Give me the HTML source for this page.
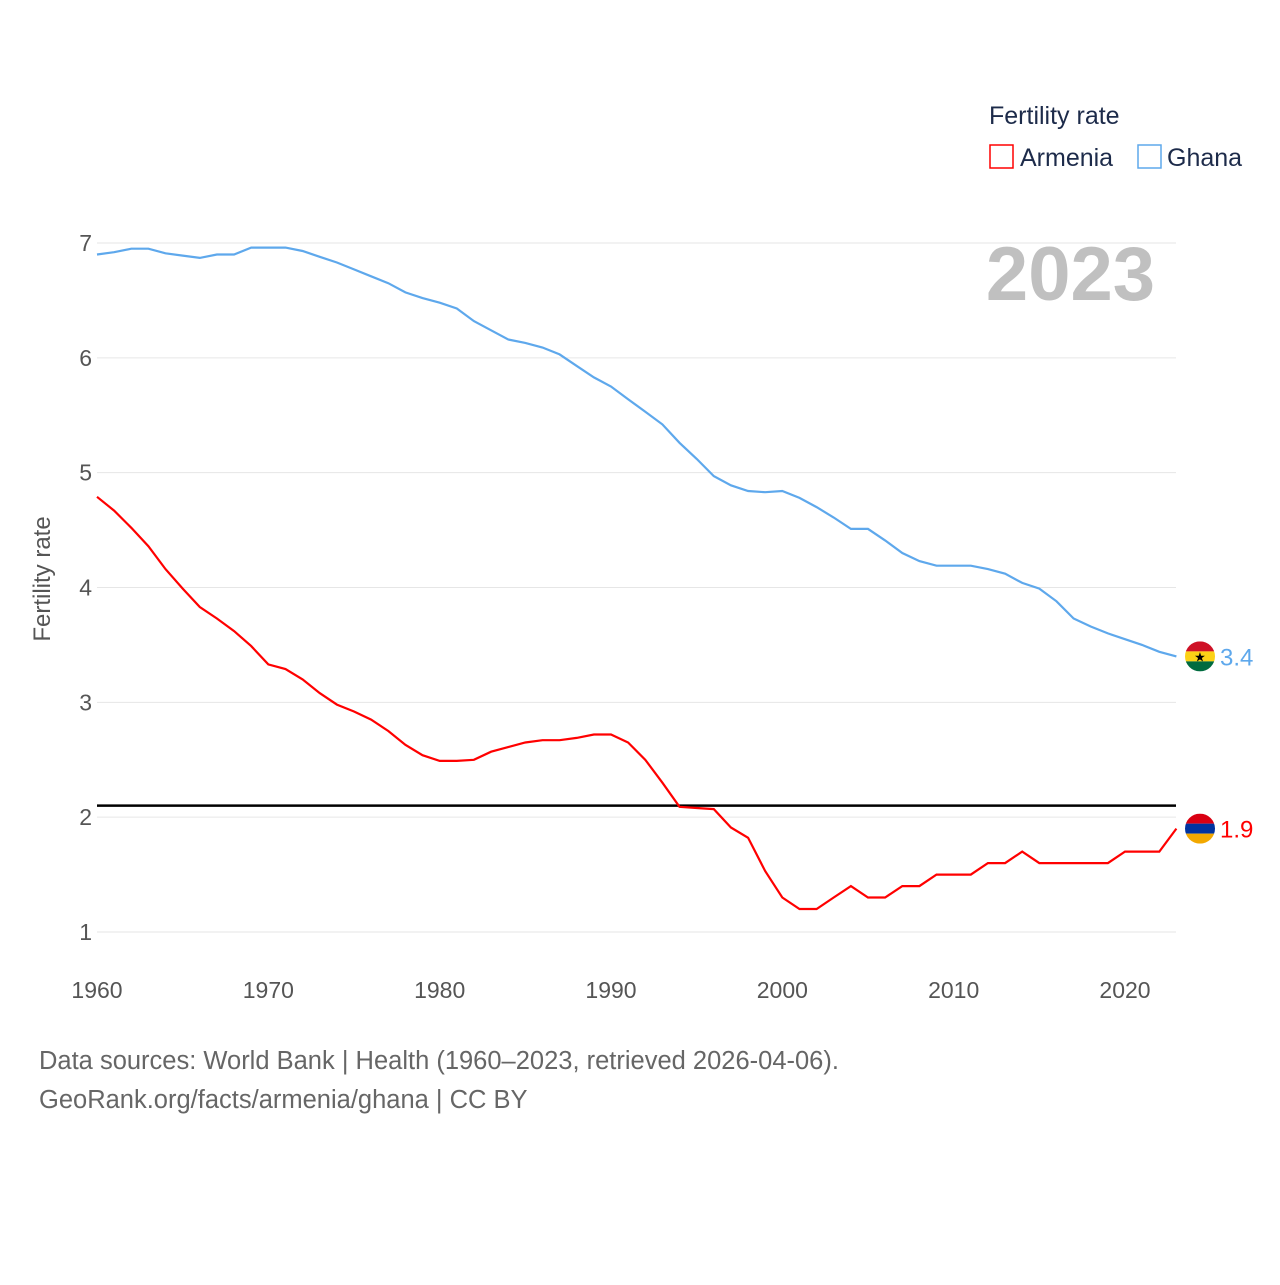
<!DOCTYPE html>
<html><head><meta charset="utf-8"><style>
body{margin:0;background:#fff;font-family:"Liberation Sans",sans-serif;}
svg text{font-family:"Liberation Sans",sans-serif;}
</style></head><body>
<svg id="chart" width="1280" height="1280">
<g id="grid"></g>
<g id="lines"></g>
<text x="1155" y="300" text-anchor="end" font-size="76" font-weight="bold" fill="#c0c0c0">2023</text>
<text x="989" y="124" font-size="25" fill="#1d2b4a">Fertility rate</text>
<g><rect x="990" y="145" width="23" height="23" fill="none" stroke="#ff0000" stroke-width="1.5"/><text x="1020" y="166" font-size="25" fill="#1d2b4a">Armenia</text></g>
<g><rect x="1138" y="145" width="23" height="23" fill="none" stroke="#5ea8ec" stroke-width="1.5"/><text x="1167" y="166" font-size="25" fill="#1d2b4a">Ghana</text></g>
<text transform="translate(50,579) rotate(-90)" text-anchor="middle" font-size="24" fill="#555">Fertility rate</text>
<text x="39" y="1069" font-size="25.5" fill="#666">Data sources: World Bank | Health (1960–2023, retrieved 2026-04-06).</text>
<text x="39" y="1108" font-size="25.5" fill="#666">GeoRank.org/facts/armenia/ghana | CC BY</text>
</svg>
<script>
const years=[];for(let y=1960;y<=2023;y++)years.push(y);
const ghana=[6.9,6.92,6.95,6.95,6.91,6.89,6.87,6.9,6.9,6.96,6.96,6.96,6.93,6.88,6.83,6.77,6.71,6.65,6.57,6.52,6.48,6.43,6.32,6.24,6.16,6.13,6.09,6.03,5.93,5.83,5.75,5.64,5.53,5.42,5.26,5.12,4.97,4.89,4.84,4.83,4.84,4.78,4.7,4.61,4.51,4.51,4.41,4.3,4.23,4.19,4.19,4.19,4.16,4.12,4.04,3.99,3.88,3.73,3.66,3.6,3.55,3.5,3.44,3.4];
const armenia=[4.79,4.67,4.52,4.36,4.16,3.99,3.83,3.73,3.62,3.49,3.33,3.29,3.2,3.08,2.98,2.92,2.85,2.75,2.63,2.54,2.49,2.49,2.5,2.57,2.61,2.65,2.67,2.67,2.69,2.72,2.72,2.65,2.5,2.3,2.09,2.08,2.07,1.91,1.82,1.53,1.3,1.2,1.2,1.3,1.4,1.3,1.3,1.4,1.4,1.5,1.5,1.5,1.6,1.6,1.7,1.6,1.6,1.6,1.6,1.6,1.7,1.7,1.7,1.9];
const yTicks=[1,2,3,4,5,6,7];
const xTicks=[1960,1970,1980,1990,2000,2010,2020];
const replacement=2.1;
const NS="http://www.w3.org/2000/svg";
const X=y=>97+(y-1960)*(1028/60);
const Y=v=>932-(v-1)*(689/6);
function mk(t,a,p){const e=document.createElementNS(NS,t);for(const k in a)e.setAttribute(k,a[k]);p.appendChild(e);return e;}
const grid=document.getElementById('grid'),lines=document.getElementById('lines');
yTicks.forEach(v=>{
 const l=mk('line',{x1:97,x2:1176,y1:Y(v),y2:Y(v),stroke:'#e6e6e6','stroke-width':1},grid);
 
 
 const t=mk('text',{x:92,y:Y(v)+8,'text-anchor':'end','font-size':23,fill:'#555'},grid);t.textContent=v;
 
 
});
xTicks.forEach(v=>{
 const t=mk('text',{x:X(v),y:998,'text-anchor':'middle','font-size':23,fill:'#555'},grid);t.textContent=v;
 
 
});
const rl=mk('line',{x1:97,x2:1176,y1:Y(replacement),y2:Y(replacement),stroke:'#000','stroke-width':2.5},lines);


function series(vals,color,name){
 const d=vals.map((v,i)=>(i?'L':'M')+X(years[i]).toFixed(1)+','+Y(v).toFixed(1)).join('');
 const p=mk('path',{d:d,fill:'none',stroke:color,'stroke-width':2.2},lines);
 
 
}
series(ghana,'#5ea8ec','ghana');
series(armenia,'#ff0000','armenia');
function flag(vals,cols,label,color,name){
 const v=vals[vals.length-1],cx=1200,cy=Y(v);
 const g=mk('g',{},lines);
 
 
 const cid='c'+name;const cp=mk('clipPath',{id:cid},g);mk('circle',{cx:cx,cy:cy,r:15},cp);
 cols.forEach((c,i)=>mk('rect',{x:cx-15,y:cy-15+i*10,width:30,height:10,fill:c,'clip-path':'url(#'+cid+')'},g));
 if(name==='ghana'){const s=mk('text',{x:cx,y:cy+5,'text-anchor':'middle','font-size':13,fill:'#000'},g);s.textContent='★';}
 const t=mk('text',{x:1220,y:cy+9,'font-size':24,fill:color},lines);t.textContent=label;
 
 
}
flag(ghana,['#ce1126','#fcd116','#006b3f'],'3.4','#5ea8ec','ghana');
flag(armenia,['#d90012','#0033a0','#f2a800'],'1.9','#ff0000','armenia');
</script>
</body></html>
